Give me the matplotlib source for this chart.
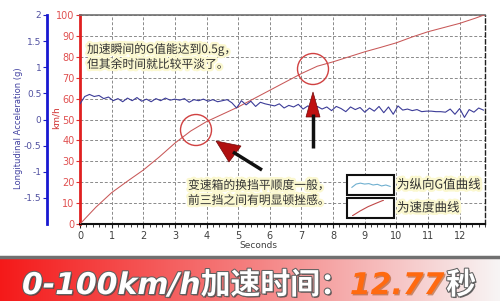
import numpy as np
import matplotlib
matplotlib.use("Agg")
import matplotlib.pyplot as plt
from matplotlib.patches import Circle, Rectangle, Polygon
from matplotlib.lines import Line2D
import matplotlib.patheffects as pe
from matplotlib.ticker import MultipleLocator

plt.rcParams['font.family'] = ['DejaVu Sans', 'Noto Sans CJK SC']

# ---------------- data ----------------
speed_t = [0, 0.5, 1, 1.5, 2, 2.5, 3, 3.5, 4, 4.5, 5, 5.5, 6, 6.5, 7, 7.5,
           8, 8.5, 9, 9.5, 10, 10.5, 11, 11.5, 12, 12.5, 12.77]
speed_kmh = [0, 8, 15, 20.5, 25.8, 32, 38.7, 44.5, 49, 52.5, 56, 60, 64, 68,
             72, 75.5, 77.6, 80, 82.4, 84.5, 86.7, 89.5, 92, 94, 96, 98.5, 100]

g_step = 0.15
g_values = [0.30, 0.44, 0.48, 0.44, 0.46, 0.40, 0.43, 0.36, 0.40, 0.34, 0.41,
            0.36, 0.42, 0.35, 0.39, 0.34, 0.40, 0.36, 0.41, 0.37, 0.39,
            0.37, 0.40, 0.33, 0.38, 0.36, 0.39, 0.35, 0.38, 0.34, 0.36,
            0.38, 0.32, 0.22, 0.36, 0.28, 0.35, 0.25, 0.33, 0.30, 0.28,
            0.26, 0.30, 0.22, 0.27, 0.24, 0.29, 0.20, 0.26, 0.23, 0.25,
            0.20, 0.24, 0.17, 0.25, 0.21, 0.15, 0.24, 0.19, 0.23, 0.14,
            0.22, 0.16, 0.25, 0.13, 0.24, 0.10, 0.26, 0.18, 0.20, 0.17,
            0.19, 0.15, 0.16, 0.16, 0.15, 0.15, 0.14, 0.20, 0.10, 0.21,
            0.04, 0.19, 0.14, 0.22, 0.18]
g_t = [i * g_step for i in range(len(g_values))]

x_ticks = list(range(0, 13))
speed_ticks = list(range(0, 101, 10))
g_ticks = [2, 1.5, 1, 0.5, 0, -0.5, -1, -1.5]
g_tick_labels = ["2", "1.5", "1", "0.5", "0", "-0.5", "-1", "-1.5"]

note1 = "加速瞬间的G值能达到0.5g，\n但其余时间就比较平淡了。"
note2 = "变速箱的换挡平顺度一般，\n前三挡之间有明显顿挫感。"
legend_g = "为纵向G值曲线"
legend_v = "为速度曲线"
banner_a = "0-100km/h加速时间："
banner_b = "12.77"
banner_c = "秒"

# ---------------- figure ----------------
W, H = 500, 301
fig = plt.figure(figsize=(W / 100, H / 100), dpi=100)
fig.patch.set_facecolor('white')

def fx(x):
    return x / W

def fy(y):
    return 1 - y / H

# main axes: px 80..485 x, 15..224 y
L, R, T, B = 80, 485, 15, 224
ax = fig.add_axes([fx(L), fy(B), (R - L) / W, (B - T) / H])
ax.set_xlim(0, 12.8)
ax.set_ylim(0, 100)
ax.set_xticks(x_ticks)
ax.xaxis.set_minor_locator(MultipleLocator(0.2))
ax.set_yticks(speed_ticks)
ax.grid(True, which='major', color='#8a8a8a', linestyle=(0, (3, 2)), linewidth=0.7)
ax.tick_params(axis='x', which='major', length=3, width=0.8, colors='#202020',
               labelsize=7, labelcolor='#404040', pad=2)
ax.tick_params(axis='x', which='minor', length=2, width=0.6, colors='#202020')
ax.tick_params(axis='y', length=3, width=0.8, colors='#e03030', labelsize=7,
               labelcolor='#e05050', pad=1)
ax.spines['left'].set_color('#e02020')
ax.spines['left'].set_linewidth(2)
ax.spines['bottom'].set_color('#101010')
ax.spines['bottom'].set_linewidth(1.5)
ax.spines['top'].set_color('#707070')
ax.spines['top'].set_linewidth(1.2)
ax.spines['right'].set_color('#202020')
ax.spines['right'].set_linestyle((0, (3, 2)))
ax.spines['right'].set_linewidth(1)
ax.plot(speed_t, speed_kmh, color='#c85858', linewidth=0.75, zorder=3)

# G axis
ax2 = ax.twinx()
ax2.set_ylim(-2, 2)
ax2.spines['left'].set_position(('axes', -33 / (R - L)))
ax2.spines['left'].set_visible(True)
ax2.spines['left'].set_color('#1818d0')
ax2.spines['left'].set_linewidth(2)
for s in ('right', 'top', 'bottom'):
    ax2.spines[s].set_visible(False)
ax2.yaxis.tick_left()
ax2.set_yticks(g_ticks)
ax2.set_yticklabels(g_tick_labels)
ax2.tick_params(axis='y', length=3, width=0.8, colors='#2020c0', labelsize=6.5,
                labelcolor='#5050a0', pad=1)
ax2.plot(g_t, g_values, color='#3c3c98', linewidth=0.8, zorder=3)
ax2.patch.set_visible(False)

fig.text(fx(19), fy(128), "Longitudinal Acceleration (g)", rotation=90,
         ha='center', va='center', fontsize=6, color='#4040a0')
fig.text(fx(56), fy(118), "km/h", rotation=90, ha='center', va='center',
         fontsize=6.5, color='#d03030')
fig.text(fx(258), fy(245), "Seconds", ha='center', va='center', fontsize=6.5,
         color='#404040')

# annotation layer
ov = fig.add_axes([0, 0, 1, 1])
ov.set_xlim(0, W)
ov.set_ylim(H, 0)
ov.axis('off')
ov.patch.set_visible(False)

glow = [pe.withStroke(linewidth=3.5, foreground='#fbf8d0')]
cjk = ['Noto Sans CJK SC', 'DejaVu Sans']
ov.text(87, 57, note1, fontsize=8.5, color='#303030', family=cjk, ha='left',
        va='center', linespacing=1.2, path_effects=glow)
ov.text(188, 193, note2, fontsize=8.5, color='#303030', family=cjk, ha='left',
        va='center', linespacing=1.2, path_effects=glow)

for cx, cy in [(196, 130), (313, 69)]:
    ov.add_patch(Circle((cx, cy), 15.5, fill=False, edgecolor='#d04040', linewidth=1))

# arrows
ov.add_line(Line2D([262, 233], [170, 152], color='#101010', linewidth=2.5,
                   solid_capstyle='butt'))
ov.add_patch(Polygon([[216, 141], [229, 162], [241, 146]], closed=True,
                     facecolor='#b01010', edgecolor='#700808', linewidth=0.5))
ov.add_line(Line2D([313, 313], [148, 114], color='#101010', linewidth=2.5,
                   solid_capstyle='butt'))
ov.add_patch(Polygon([[313, 92], [306, 117], [320, 117]], closed=True,
                     facecolor='#c01010', edgecolor='#700808', linewidth=0.5))

# legend boxes
ov.add_patch(Rectangle((347, 175), 47, 20, facecolor='white', edgecolor='#101010',
                       linewidth=1.5))
ov.add_patch(Rectangle((347, 198), 47, 20, facecolor='white', edgecolor='#101010',
                       linewidth=1.5))
ov.text(397, 185, legend_g, fontsize=9, color='#303030', family=cjk, ha='left',
        va='center', path_effects=glow)
ov.text(397, 208, legend_v, fontsize=9, color='#303030', family=cjk, ha='left',
        va='center', path_effects=glow)

lg1 = fig.add_axes([fx(350), fy(192), 42 / W, 14 / H])
lg1.plot(g_t[:10], g_values[:10], color='#70b0d0', linewidth=0.8)
lg1.set_ylim(0.1, 0.7)
lg1.axis('off')
lg2 = fig.add_axes([fx(352), fy(216), 32 / W, 16 / H])
lg2.plot(speed_t[:5], speed_kmh[:5], color='#c04848', linewidth=0.8)
lg2.margins(0)
lg2.axis('off')

# banner
ban = fig.add_axes([0, 0, 1, (H - 258) / H])
grad = np.linspace(0, 1, 256)
left_c = np.array([0.96, 0.10, 0.10])
mid_c = np.array([0.96, 0.50, 0.50])
right_c = np.array([0.97, 0.96, 0.96])
cols = np.where(grad[:, None] < 0.5,
                left_c + (mid_c - left_c) * (grad[:, None] / 0.5),
                mid_c + (right_c - mid_c) * ((grad[:, None] - 0.5) / 0.5))
ban.imshow(cols[None, :, :], aspect='auto', extent=[0, 1, 0, 1])
ban.set_xlim(0, 1)
ban.set_ylim(0, 1)
ban.axis('off')
fig.add_artist(Line2D([0, 1], [fy(257), fy(257)], color='#707070', linewidth=2.5,
                      transform=fig.transFigure))

bfs = 21.5
outline = [pe.withSimplePatchShadow(offset=(1, -1), shadow_rgbFace='#404040', alpha=0.8),
           pe.withStroke(linewidth=1.5, foreground='#606060')]
fam = ['DejaVu Sans', 'Noto Sans CJK SC']
t1 = fig.text(fx(22), fy(294), banner_a, fontsize=bfs, color='white',
              fontweight='bold', style='italic', family=fam, va='baseline',
              path_effects=outline)
fig.canvas.draw()
r = fig.canvas.get_renderer()
bb = t1.get_window_extent(r)
t2 = fig.text(bb.x1 / W, fy(294), banner_b, fontsize=bfs, color='#ff6a10',
              fontweight='bold', style='italic', family=fam, va='baseline',
              path_effects=[pe.withSimplePatchShadow(offset=(1, -1), shadow_rgbFace='#a04000', alpha=0.5)])
bb2 = t2.get_window_extent(r)
fig.text(bb2.x1 / W + 0.004, fy(294), banner_c, fontsize=bfs, color='white',
         fontweight='bold', family=fam, va='baseline', path_effects=outline)

fig.savefig("out.png", dpi=100)
